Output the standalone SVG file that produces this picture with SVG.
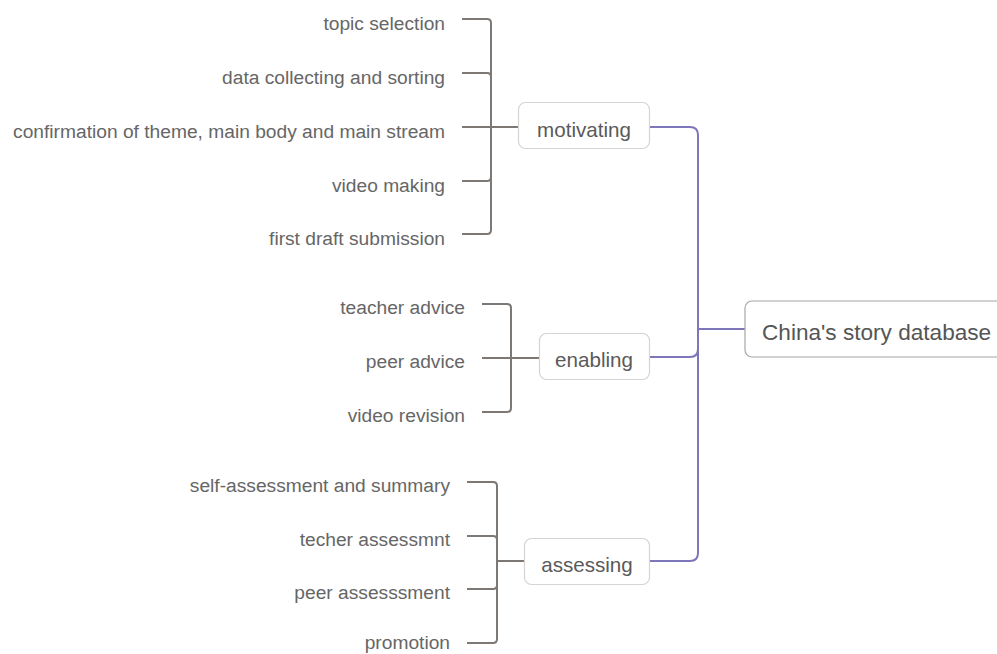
<svg xmlns="http://www.w3.org/2000/svg" width="997" height="654" viewBox="0 0 997 654">
  <style>
    .bg { fill: #ffffff; }
    .box { fill: #ffffff; stroke: #d6d3d1; stroke-width: 1.2; }
    .root { fill: #ffffff; stroke: #aaa5a2; stroke-width: 1.2; }
    .main { stroke: #7e76ba; stroke-width: 2; fill: none; }
    .sub { stroke: #7d7874; stroke-width: 2; fill: none; }
    .label { font-family: "Liberation Sans", Arial, sans-serif; fill: #5a5a5a; text-anchor: middle; font-size: 20.6px; }
    .rootlabel { font-family: "Liberation Sans", Arial, sans-serif; fill: #555555; font-size: 22.6px; }
    .leaf { font-family: "Liberation Sans", Arial, sans-serif; fill: #666666; text-anchor: end; font-size: 19.2px; }
  </style>
  <rect class="bg" x="0" y="0" width="997" height="654"/>

  <!-- connectors -->
  <g id="connectors">
    <!-- root to main branches -->
    <path class="main" d="M745 329 H698"/>
    <path class="main" d="M698 329 V135 Q698 127 690 127 H650"/>
    <path class="main" d="M698 329 V349 Q698 357 690 357 H650"/>
    <path class="main" d="M698 329 V553 Q698 561 690 561 H650"/>

    <!-- motivating subtopics -->
    <path class="sub" d="M518 127 H491"/>
    <path class="sub" d="M491 127 V23 Q491 19 487 19 H462"/>
    <path class="sub" d="M491 127 V77 Q491 73 487 73 H462"/>
    <path class="sub" d="M491 127 H462"/>
    <path class="sub" d="M491 127 V177 Q491 181 487 181 H462"/>
    <path class="sub" d="M491 127 V230 Q491 234 487 234 H462"/>

    <!-- enabling subtopics -->
    <path class="sub" d="M539 358 H511"/>
    <path class="sub" d="M511 358 V308 Q511 304 507 304 H482"/>
    <path class="sub" d="M511 358 H482"/>
    <path class="sub" d="M511 358 V408 Q511 412 507 412 H482"/>

    <!-- assessing subtopics -->
    <path class="sub" d="M524 561 H497"/>
    <path class="sub" d="M497 561 V486 Q497 482 493 482 H467"/>
    <path class="sub" d="M497 561 V540 Q497 536 493 536 H467"/>
    <path class="sub" d="M497 561 V585 Q497 589 493 589 H467"/>
    <path class="sub" d="M497 561 V639 Q497 643 493 643 H467"/>
  </g>

  <!-- central topic -->
  <g id="root">
    <rect class="root" x="745" y="301" width="270" height="56" rx="7"/>
    <text class="rootlabel" x="762" y="340">China's story database</text>
  </g>

  <!-- main branches -->
  <g id="motivating">
    <rect class="box" x="518.5" y="102.5" width="131" height="46" rx="7"/>
    <text class="label" x="584" y="137">motivating</text>
  </g>
  <g id="enabling">
    <rect class="box" x="539.5" y="333.5" width="110" height="46" rx="7"/>
    <text class="label" x="594" y="367">enabling</text>
  </g>
  <g id="assessing">
    <rect class="box" x="524.5" y="538.5" width="125" height="46" rx="7"/>
    <text class="label" x="587" y="572">assessing</text>
  </g>

  <!-- motivating leaves -->
  <g id="topic-selection"><text class="leaf" x="445" y="30">topic selection</text></g>
  <g id="data-collecting"><text class="leaf" x="445" y="84">data collecting and sorting</text></g>
  <g id="confirmation"><text class="leaf" x="445" y="138">confirmation of theme, main body and main stream</text></g>
  <g id="video-making"><text class="leaf" x="445" y="192">video making</text></g>
  <g id="first-draft"><text class="leaf" x="445" y="245">first draft submission</text></g>

  <!-- enabling leaves -->
  <g id="teacher-advice"><text class="leaf" x="465" y="314">teacher advice</text></g>
  <g id="peer-advice"><text class="leaf" x="465" y="368">peer advice</text></g>
  <g id="video-revision"><text class="leaf" x="465" y="422">video revision</text></g>

  <!-- assessing leaves -->
  <g id="self-assessment"><text class="leaf" x="450" y="492">self-assessment and summary</text></g>
  <g id="teacher-assessment"><text class="leaf" x="450" y="546">techer assessmnt</text></g>
  <g id="peer-assessment"><text class="leaf" x="450" y="599">peer assesssment</text></g>
  <g id="promotion"><text class="leaf" x="450" y="649">promotion</text></g>
</svg>
